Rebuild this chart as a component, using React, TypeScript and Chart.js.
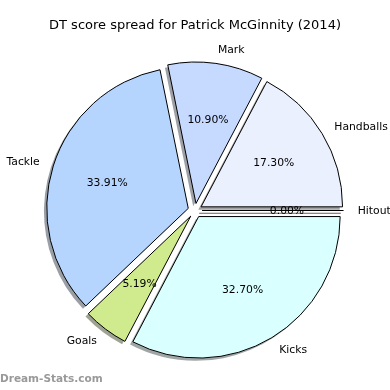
import React, { useEffect, useRef } from 'react';
import { Chart, ArcElement, registerables } from 'chart.js';

Chart.register(...registerables);

const TITLE = 'DT score spread for Patrick McGinnity (2014)';
const WATERMARK = 'Dream-Stats.com';

// matplotlib order: counter-clockwise starting at 3 o'clock
const categories = ['Handballs', 'Mark', 'Tackle', 'Goals', 'Kicks', 'Hitout'];
const shares = [17.3, 10.9, 33.91, 5.19, 32.7, 0.0];
const sliceColors = ['#EBF0FF', '#C6D9FF', '#B5D5FF', '#D0EB8D', '#DAFFFF', '#FFDAB9'];

const EXPLODE = 0.05;
const LABEL_DIST = 1.1;
const PCT_DIST = 0.6;
const SHADOW = 2.8;
const FONT = '"DejaVu Sans", sans-serif';

// Chart.js draws clockwise, so reverse to reproduce the counter-clockwise layout
const cjLabels = [...categories].reverse();
const cjValues = [...shares].reverse();
const cjColors = [...sliceColors].reverse();

function hexToRgb(h: string) {
  const n = parseInt(h.slice(1), 16);
  return [(n >> 16) & 255, (n >> 8) & 255, n & 255];
}

function shift(arc: any) {
  const mid = (arc.startAngle + arc.endAngle) / 2;
  const d = arc.outerRadius * EXPLODE;
  return { mid, dx: Math.cos(mid) * d, dy: Math.sin(mid) * d };
}

const mplPie = {
  id: 'mplPie',
  afterDatasetsUpdate(chart: any) {
    const meta = chart.getDatasetMeta(0);
    meta.data.forEach((arc: any) => {
      if (arc._patched) return;
      arc._patched = true;
      arc.draw = function (ctx: CanvasRenderingContext2D, area: any) {
        const { dx, dy } = shift(this);
        ctx.save();
        ctx.translate(dx, dy);
        ArcElement.prototype.draw.call(this, ctx, area);
        ctx.restore();
      };
    });
  },
  beforeDatasetsDraw(chart: any) {
    const ctx: CanvasRenderingContext2D = chart.ctx;
    const meta = chart.getDatasetMeta(0);
    const bg = chart.data.datasets[0].backgroundColor as string[];
    meta.data.forEach((arc: any, i: number) => {
      const { dx, dy } = shift(arc);
      const [r, g, b] = hexToRgb(bg[i]);
      const sh = `rgba(${Math.round(r * 0.3)},${Math.round(g * 0.3)},${Math.round(b * 0.3)},0.5)`;
      ctx.save();
      ctx.translate(dx - SHADOW, dy + SHADOW);
      ctx.beginPath();
      ctx.moveTo(arc.x, arc.y);
      ctx.arc(arc.x, arc.y, arc.outerRadius, arc.startAngle, arc.endAngle);
      ctx.closePath();
      if (arc.endAngle - arc.startAngle > 1e-6) {
        ctx.fillStyle = sh;
        ctx.fill();
      } else {
        ctx.strokeStyle = sh;
        ctx.lineWidth = 1;
        ctx.stroke();
      }
      ctx.restore();
    });
  },
  afterDatasetsDraw(chart: any) {
    const ctx: CanvasRenderingContext2D = chart.ctx;
    const meta = chart.getDatasetMeta(0);
    const values = chart.data.datasets[0].data as number[];
    const labels = chart.data.labels as string[];
    const total = values.reduce((a, b) => a + b, 0);

    // zero-width wedges are drawn as a single edge line (as matplotlib does)
    meta.data.forEach((arc: any) => {
      if (arc.endAngle - arc.startAngle > 1e-6) return;
      const { dx, dy } = shift(arc);
      ctx.save();
      ctx.translate(dx, dy);
      ctx.beginPath();
      ctx.moveTo(arc.x, arc.y);
      ctx.lineTo(arc.x + Math.cos(arc.startAngle) * arc.outerRadius, arc.y + Math.sin(arc.startAngle) * arc.outerRadius);
      ctx.strokeStyle = '#000';
      ctx.lineWidth = 1;
      ctx.stroke();
      ctx.restore();
    });

    ctx.save();
    ctx.fillStyle = '#000';
    ctx.font = `10.8px ${FONT}`;
    ctx.textBaseline = 'middle';
    meta.data.forEach((arc: any, i: number) => {
      const { mid, dx, dy } = shift(arc);
      const cx = arc.x + dx;
      const cy = arc.y + dy;
      const R = arc.outerRadius;
      const lx = cx + Math.cos(mid) * R * LABEL_DIST;
      const ly = cy + Math.sin(mid) * R * LABEL_DIST + 0.5;
      ctx.textAlign = Math.cos(mid) > 0 ? 'left' : 'right';
      ctx.fillText(labels[i], lx, ly);
      const px = cx + Math.cos(mid) * R * PCT_DIST;
      const py = cy + Math.sin(mid) * R * PCT_DIST + 0.5;
      ctx.textAlign = 'center';
      ctx.fillText(((values[i] / total) * 100).toFixed(2) + '%', px, py);
    });

    ctx.font = `13px ${FONT}`;
    ctx.textAlign = 'center';
    ctx.fillText(TITLE, 195, 26);

    ctx.font = `bold 10.5px ${FONT}`;
    ctx.fillStyle = '#999999';
    ctx.textAlign = 'left';
    ctx.fillText(WATERMARK, 0, 379);
    ctx.restore();
  },
};

export default function App() {
  const ref = useRef<HTMLCanvasElement>(null);
  useEffect(() => {
    if (!ref.current) return;
    const chart = new Chart(ref.current, {
      type: 'pie',
      data: {
        labels: cjLabels,
        datasets: [
          {
            data: cjValues,
            backgroundColor: cjColors,
            borderColor: '#000000',
            borderWidth: 1,
            borderJoinStyle: 'miter',
          },
        ],
      },
      options: {
        responsive: false,
        animation: false,
        events: [],
        rotation: 90,
        radius: 141.5,
        layout: { padding: { top: 31, bottom: 0, left: 0, right: 0 } },
        plugins: {
          legend: { display: false },
          title: { display: false },
          tooltip: { enabled: false },
        },
      },
      plugins: [mplPie],
    } as any);
    return () => chart.destroy();
  }, []);
  return (
    <div style={{ position: 'absolute', left: 0, top: 0, width: 390, height: 390, background: '#fff' }}>
      <canvas ref={ref} width={390} height={390} />
    </div>
  );
}
